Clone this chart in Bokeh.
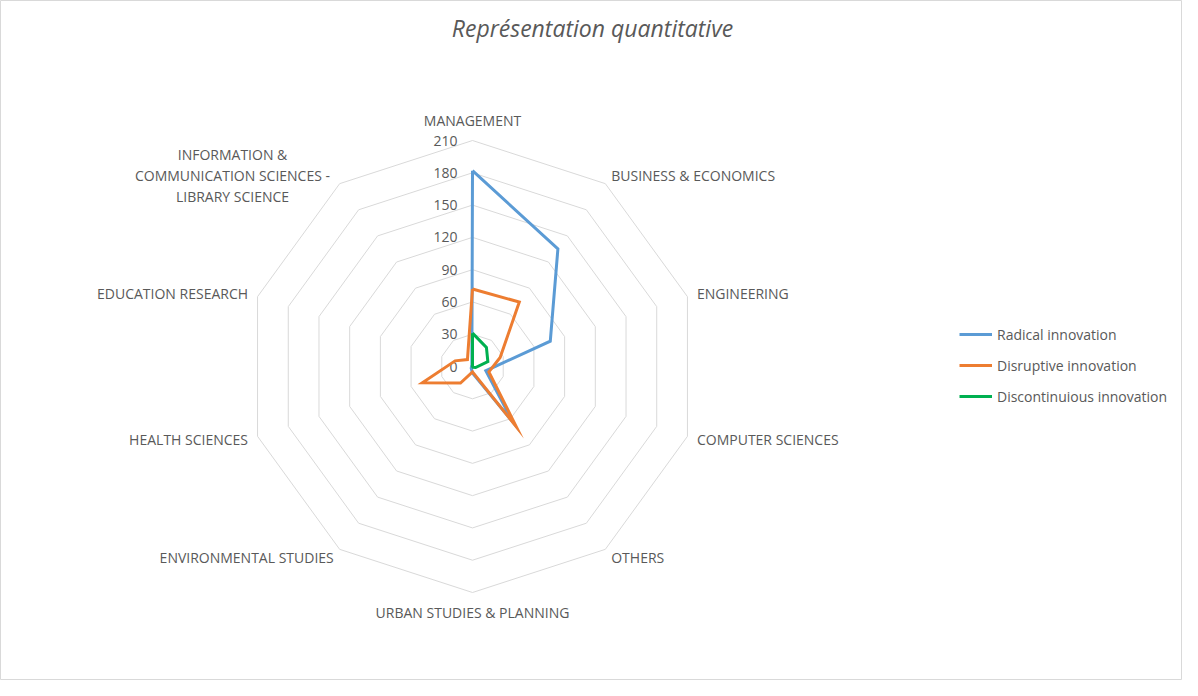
import numpy as np
from bokeh.plotting import figure
from bokeh.models import Range1d, Legend, LegendItem, ColumnDataSource
from bokeh.core.properties import value
from bokeh.embed import file_html
from bokeh.resources import INLINE

categories = ["MANAGEMENT", "BUSINESS & ECONOMICS", "ENGINEERING", "COMPUTER SCIENCES",
              "OTHERS", "URBAN STUDIES & PLANNING", "ENVIRONMENTAL STUDIES",
              "HEALTH SCIENCES", "EDUCATION RESEARCH",
              "INFORMATION &\nCOMMUNICATION SCIENCES -\nLIBRARY SCIENCE"]
radical = [182, 135, 76, 13, 64, 6, 2, 1, 1, 1]
disruptive = [72, 74, 27, 16, 69, 5, 19, 49, 17, 8]
discontinuous = [31, 22, 15, 3, 1, 0, 0, 0, 0, 0]
series_names = ["Radical innovation", "Disruptive innovation", "Discontinuious innovation"]
series_colors = ["#5B9BD5", "#ED7D31", "#00B050"]
ring_values = [30, 60, 90, 120, 150, 180, 210]
tick_labels = ["0", "30", "60", "90", "120", "150", "180", "210"]

W, H = 1182, 680
K = 226.0 / 210.0          # px per unit
CX, CY = 472, 366          # centre in frame px (from top-left)
FONT = "Open Sans"
FS = "14px"
TXT = "#595959"

p = figure(width=W, height=H, output_backend="svg", toolbar_location=None,
           min_border=0, tools="")
p.x_range = Range1d(-CX / K, (W - CX) / K)
p.y_range = Range1d(-(H - CY) / K, CY / K)
p.xaxis.visible = False
p.yaxis.visible = False
p.grid.visible = False
p.outline_line_color = "#d9d9d9"
p.outline_line_width = 1
p.background_fill_color = "white"
p.border_fill_color = "white"

n = len(categories)
ang = np.array([2 * np.pi * i / n for i in range(n)])

def polar(vals):
    v = np.asarray(vals, dtype=float)
    x = v * np.sin(ang)
    y = v * np.cos(ang)
    return list(x) + [x[0]], list(y) + [y[0]]

# rings
xs, ys = [], []
for r in ring_values:
    x, y = polar([r] * n)
    xs.append(x); ys.append(y)
p.multi_line(xs, ys, line_color="#d9d9d9", line_width=1)

# tick labels
tv = [float(t) for t in tick_labels]
p.text(x=[-15 / K] * len(tv), y=tv, text=tick_labels, text_align="right",
       text_baseline="middle", text_font=value(FONT), text_font_size=FS,
       text_color=TXT)

# series
renderers = []
for vals, name, col in zip([radical, disruptive, discontinuous], series_names, series_colors):
    x, y = polar(vals)
    r = p.line(x, y, line_color=col, line_width=3, line_join="miter")
    renderers.append(r)

# category labels
R = 236 / K
lx, ly, la, lt = [], [], [], []
for i, c in enumerate(categories[:-1]):
    a = ang[i]
    s, co = np.sin(a), np.cos(a)
    if abs(s) < 1e-6:
        rr = 246 / K
        lx.append(0); ly.append(rr * co); la.append("center")
    else:
        lx.append(R * s); ly.append(R * co)
        la.append("left" if s > 0 else "right")
    lt.append(c)
src = ColumnDataSource(dict(x=lx, y=ly, t=lt, a=la))
p.text(x="x", y="y", text="t", text_align="a", source=src, text_baseline="middle",
       text_font=value(FONT), text_font_size=FS, text_color=TXT)
info_lines = categories[-1].split("\n")
p.text(x=[-240 / K] * 3, y=[(191 + 21) / K, 191 / K, (191 - 21) / K], text=info_lines,
       text_align="center", text_baseline="middle", text_font=value(FONT),
       text_font_size=FS, text_color=TXT)

# title
p.text(x=[(600 - 8 - CX) / K], y=[(CY - 27) / K], text=["Représentation quantitative"],
       text_align="center", text_baseline="middle", text_font=value(FONT),
       text_font_style="italic", text_font_size="23px", text_color=TXT)

legend = Legend(items=[LegendItem(label=nm, renderers=[r]) for nm, r in zip(series_names, renderers)],
                location=(959, 274), border_line_color=None, background_fill_alpha=0,
                padding=0, margin=0, spacing=11, glyph_width=33, glyph_height=20,
                label_height=20, label_standoff=5, label_text_font=FONT,
                label_text_font_size=FS, label_text_color=TXT)
p.add_layout(legend)

open("out.html", "w").write(file_html(p, INLINE))
